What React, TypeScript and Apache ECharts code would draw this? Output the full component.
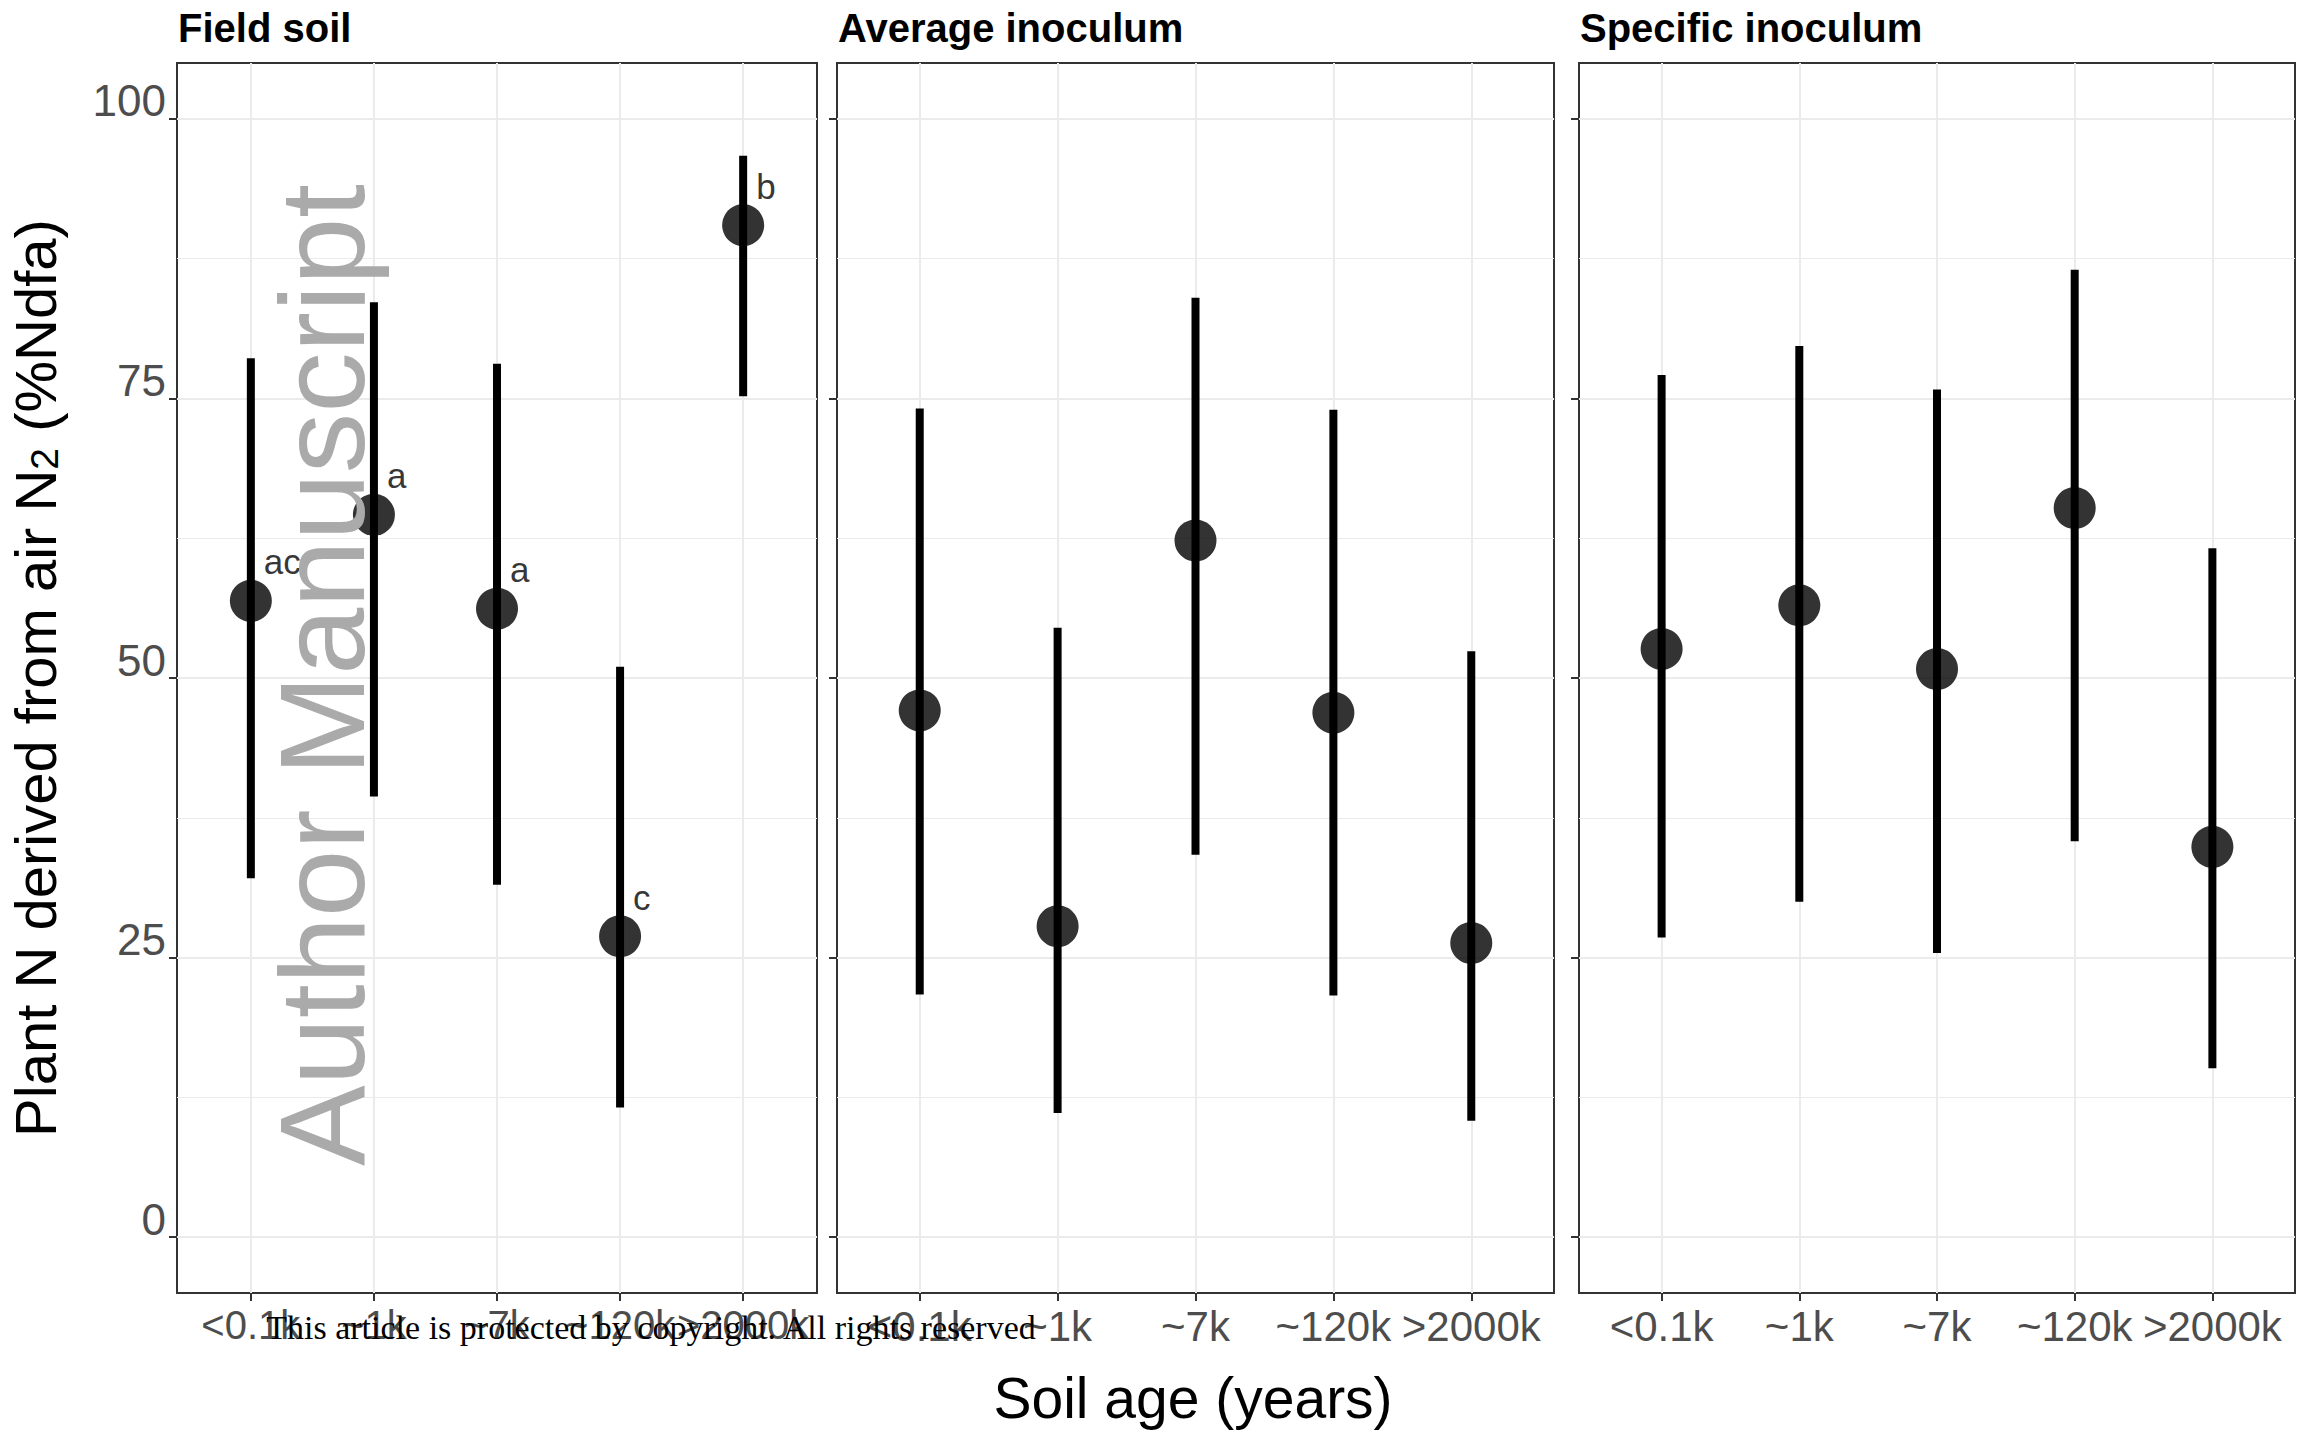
import React, { useEffect, useRef } from 'react';
import * as echarts from 'echarts';

// ---- data ----
const ages = ['<0.1k', '~1k', '~7k', '~120k', '>2000k'];
const panelTitles = ['Field soil', 'Average inoculum', 'Specific inoculum'];

const fieldMean = [56.9, 64.6, 56.2, 26.9, 90.5];
const fieldLow = [32.1, 39.4, 31.5, 11.6, 75.2];
const fieldHigh = [78.6, 83.6, 78.1, 51.0, 96.7];
const fieldLetters = ['ac', 'a', 'a', 'c', 'b'];

const avgMean = [47.1, 27.8, 62.3, 46.9, 26.3];
const avgLow = [21.7, 11.1, 34.2, 21.6, 10.4];
const avgHigh = [74.1, 54.5, 84.0, 74.0, 52.4];

const specMean = [52.6, 56.5, 50.8, 65.2, 34.9];
const specLow = [26.8, 30.0, 25.4, 35.4, 15.1];
const specHigh = [77.1, 79.7, 75.8, 86.5, 61.6];

const yMajorTicks = [0, 25, 50, 75, 100];
const yMinorGrid = [12.5, 37.5, 62.5, 87.5];
const yMin = -5;
const yMax = 105;
const xMin = 0.4;
const xMax = 5.6;

const yTitle = 'Plant N derived from air N{sub|2} (%Ndfa)';
const xTitle = 'Soil age (years)';
const watermark = 'Author Manuscript';
const copyright = 'This article is protected by copyright. All rights reserved';

// ---- layout ----
const SANS = '"Liberation Sans", Arial, Helvetica, sans-serif';
const SERIF = '"Liberation Serif", "Times New Roman", serif';
const gridTop = 63;
const gridHeight = 1230;
const gridBoxes = [
  { left: 177, width: 640, xLabelSize: 40 },
  { left: 837, width: 717, xLabelSize: 42 },
  { left: 1579, width: 716, xLabelSize: 42 },
];

const panels = [
  { mean: fieldMean, low: fieldLow, high: fieldHigh, letters: fieldLetters },
  { mean: avgMean, low: avgLow, high: avgHigh, letters: null as string[] | null },
  { mean: specMean, low: specLow, high: specHigh, letters: null as string[] | null },
];

const catPositions = ages.map((_, j) => j + 1);

export default function App() {
  const ref = useRef<HTMLDivElement>(null);

  useEffect(() => {
    if (!ref.current) return;
    const chart = echarts.init(ref.current, null, { renderer: 'svg' });

    const grids = gridBoxes.map((g) => ({
      left: g.left,
      top: gridTop,
      width: g.width,
      height: gridHeight,
      show: true,
      borderColor: '#333333',
      borderWidth: 2,
      backgroundColor: 'transparent',
    }));

    const xAxes = gridBoxes.map((g, i) => ({
      type: 'value',
      gridIndex: i,
      min: xMin,
      max: xMax,
      axisLine: { show: false, onZero: false },
      axisTick: {
        show: true,
        length: 8,
        customValues: catPositions,
        lineStyle: { color: '#333333', width: 2 },
      },
      axisLabel: {
        show: true,
        customValues: catPositions,
        showMinLabel: true,
        showMaxLabel: true,
        hideOverlap: false,
        formatter: (v: number) => ages[Math.round(v) - 1] ?? '',
        color: '#4d4d4d',
        fontSize: g.xLabelSize,
        fontFamily: SANS,
        margin: 12,
      },
      splitLine: { show: true, lineStyle: { color: '#ebebeb', width: 2 } },
    }));

    const yMain = gridBoxes.map((_, i) => ({
      type: 'value',
      gridIndex: i,
      position: 'left',
      min: yMin,
      max: yMax,
      axisLine: { show: false, onZero: false },
      axisTick: {
        show: true,
        length: 8,
        customValues: yMajorTicks,
        lineStyle: { color: '#333333', width: 2 },
      },
      axisLabel: {
        show: i === 0,
        customValues: yMajorTicks,
        showMinLabel: true,
        showMaxLabel: true,
        color: '#4d4d4d',
        fontSize: 44,
        fontFamily: SANS,
        margin: 11,
        verticalAlign: 'bottom',
        lineHeight: 36,
      },
      splitLine: { show: true, lineStyle: { color: '#ebebeb', width: 2 } },
      ...(i === 0
        ? {
            name: yTitle,
            nameLocation: 'middle',
            nameRotate: 90,
            nameGap: 113,
            nameTextStyle: {
              fontSize: 58,
              color: '#000',
              fontFamily: SANS,
              rich: {
                sub: { fontSize: 39, color: '#000', fontFamily: SANS, verticalAlign: 'bottom' },
              },
            },
          }
        : {}),
    }));

    const yMinor = gridBoxes.map((_, i) => ({
      type: 'value',
      gridIndex: i,
      position: 'right',
      min: yMin,
      max: yMax,
      axisLine: { show: false, onZero: false },
      axisTick: { show: false, customValues: yMinorGrid },
      axisLabel: { show: false },
      splitLine: { show: true, lineStyle: { color: '#ebebeb', width: 1.2 } },
    }));

    const series: any[] = [];
    panels.forEach((p, i) => {
      series.push({
        type: 'custom',
        xAxisIndex: i,
        yAxisIndex: i,
        z: 2,
        data: ages.map((_, j) => [j + 1, p.low[j], p.high[j]]),
        encode: { x: 0, y: [1, 2] },
        renderItem: (params: any, api: any) => {
          const x = api.value(0);
          const a = api.coord([x, api.value(1)]);
          const b = api.coord([x, api.value(2)]);
          return {
            type: 'line',
            shape: { x1: a[0], y1: a[1], x2: b[0], y2: b[1] },
            style: { stroke: '#000', lineWidth: 8, lineCap: 'butt' },
          };
        },
      });
      series.push({
        type: 'scatter',
        xAxisIndex: i,
        yAxisIndex: i,
        z: 3,
        symbol: 'circle',
        symbolSize: 42,
        itemStyle: { color: '#000' },
        data: ages.map((_, j) => [j + 1, p.mean[j]]),
        label: p.letters
          ? {
              show: true,
              position: 'right',
              distance: 0,
              offset: [-8, -39],
              formatter: (d: any) => (p.letters as string[])[d.dataIndex],
              fontSize: 35,
              fontFamily: SANS,
              color: '#000',
            }
          : { show: false },
      });
    });

    const graphics: any[] = [];
    panelTitles.forEach((t, i) => {
      graphics.push({
        type: 'text',
        x: gridBoxes[i].left + 1,
        y: 28,
        style: {
          text: t,
          fontSize: 40,
          fontWeight: 'bold',
          fontFamily: SANS,
          fill: '#000',
          align: 'left',
          verticalAlign: 'middle',
        },
      });
    });
    graphics.push({
      type: 'text',
      x: 1193,
      y: 1398,
      style: {
        text: xTitle,
        fontSize: 57,
        fontFamily: SANS,
        fill: '#000',
        align: 'center',
        verticalAlign: 'middle',
      },
    });
    graphics.push({
      type: 'text',
      x: 322,
      y: 675,
      rotation: Math.PI / 2,
      z: 50,
      style: {
        text: watermark,
        fontSize: 121,
        fontFamily: SANS,
        fill: '#aaaaaa',
        align: 'center',
        verticalAlign: 'middle',
      },
    });
    graphics.push({
      type: 'text',
      x: 651,
      y: 1327,
      z: 100,
      style: {
        text: copyright,
        fontSize: 34,
        fontFamily: SERIF,
        fill: '#000',
        align: 'center',
        verticalAlign: 'middle',
      },
    });

    chart.setOption({
      animation: false,
      backgroundColor: '#ffffff',
      grid: grids,
      xAxis: xAxes,
      yAxis: [...yMain, ...yMinor],
      series,
      graphic: graphics,
    });

    return () => {
      chart.dispose();
    };
  }, []);

  return (
    <div
      ref={ref}
      style={{ position: 'absolute', left: 0, top: 0, width: 2299, height: 1434 }}
    />
  );
}
